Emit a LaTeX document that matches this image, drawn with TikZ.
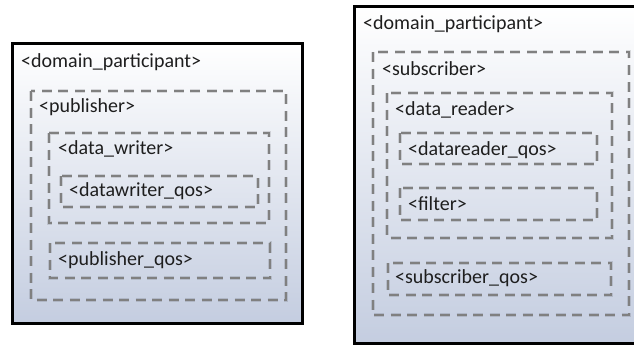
\documentclass[tikz,border=0pt]{standalone}
\usepackage{fontspec}
\setmainfont{Carlito}
\usetikzlibrary{shadows}
\definecolor{boxbottom}{RGB}{196,205,224}
\definecolor{dashgrey}{RGB}{128,128,128}
\definecolor{tagtext}{RGB}{30,30,30}
\tikzset{
  participant/.style={draw=black, line width=3pt, top color=white, bottom color=boxbottom,
    drop shadow={shadow xshift=2pt, shadow yshift=-2pt, opacity=0.35}},
  entity/.style={draw=dashgrey, line width=2.6pt, dash pattern=on 10pt off 6.5pt,
    preaction={draw=black, opacity=0.12, line width=4.5pt, dash pattern=on 10pt off 6.5pt}},
  tag/.style={anchor=base west, inner sep=0pt, text=tagtext, font=\fontsize{20}{24}\selectfont}
}
\begin{document}
\begin{tikzpicture}[x=1pt,y=-1pt]
\clip (0,0) rectangle (634,345);
\fill[white] (0,0) rectangle (634,345);

% publisher side
\draw [participant] (12,44) rectangle (302,323);
\node [tag] (lpart) at (21,67) {<domain\_participant>};
\draw [entity] (31,91) rectangle (286,300);
\node [tag] (pub) at (39,112) {<publisher>};
\draw [entity] (49,133) rectangle (269,223);
\node [tag] (dw) at (58,154) {<data\_writer>};
\draw [entity] (61,176) rectangle (258,207);
\node [tag] (dwqos) at (69,196) {<datawriter\_qos>};
\draw [entity] (50,243) rectangle (270,278);
\node [tag] (pubqos) at (58,265) {<publisher\_qos>};

% subscriber side
\draw [participant] (354,7) rectangle (650,343);
\node [tag] (rpart) at (363,30) {<domain\_participant>};
\draw [entity] (373,52) rectangle (629,315);
\node [tag] (sub) at (382,75) {<subscriber>};
\draw [entity] (387,93) rectangle (612,238);
\node [tag] (dr) at (395,115) {<data\_reader>};
\draw [entity] (400,133) rectangle (597,164);
\node [tag] (drqos) at (408,155) {<datareader\_qos>};
\draw [entity] (400,188) rectangle (597,220);
\node [tag] (filter) at (408,210) {<filter>};
\draw [entity] (388,263) rectangle (611,295);
\node [tag] (subqos) at (395,283) {<subscriber\_qos>};

\end{tikzpicture}
\end{document}
